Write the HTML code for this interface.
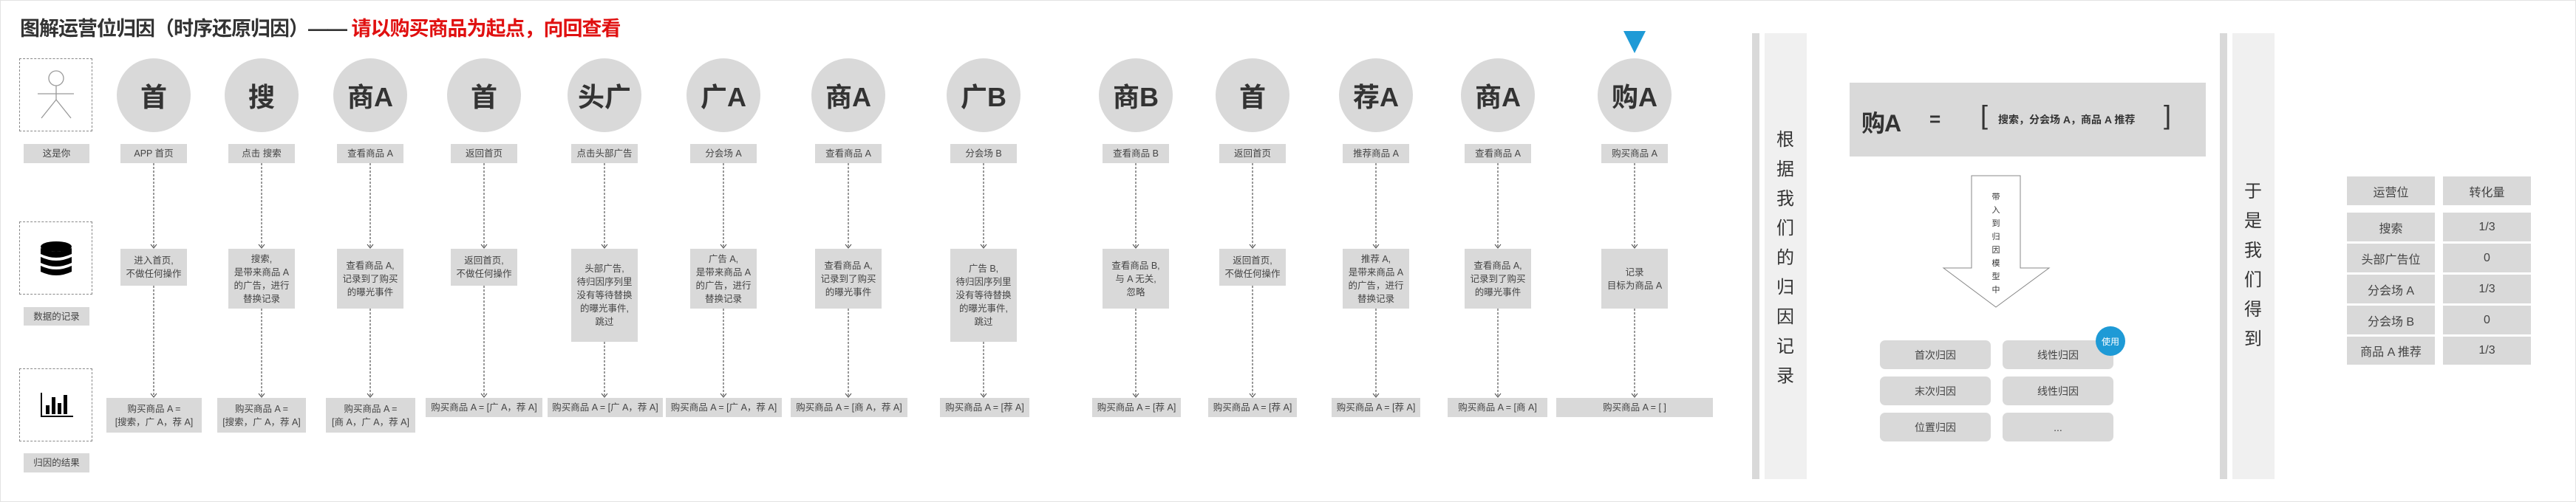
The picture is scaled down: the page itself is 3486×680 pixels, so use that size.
<!DOCTYPE html>
<html><head><meta charset="utf-8">
<style>
*{margin:0;padding:0;box-sizing:border-box}
body{width:3486px;height:680px;background:#fff;position:relative;overflow:hidden;font-family:"Liberation Sans","Noto Sans CJK SC",sans-serif;color:#333}
.a{position:absolute}
.g{position:absolute;background:#d9d9d9;display:flex;align-items:center;justify-content:center;text-align:center;font-size:12.5px;line-height:18px;color:#444;white-space:nowrap}
.c{position:absolute;width:100px;height:100px;border-radius:50%;background:#d9d9d9;top:79px;display:flex;align-items:center;justify-content:center;font-size:36px;font-weight:bold;color:#333}
.lb{top:195px;height:26px;width:90px}
.d{position:absolute;left:26px;width:99px;height:99px;border:1px dashed #888}
.btn{position:absolute;width:150px;height:39px;background:#d9d9d9;border-radius:7px;display:flex;align-items:center;justify-content:center;font-size:14px;color:#444}
.t{position:absolute;height:39px;background:#d9d9d9;display:flex;align-items:center;justify-content:center;font-size:16px;color:#444;width:119px}
</style></head><body>
<div class="a" style="left:0;top:0;width:3486px;height:680px;border:1px solid #e2e2e2"></div>
<div class="a" style="left:27px;top:17px;font-size:27px;font-weight:bold;white-space:nowrap;color:#333;letter-spacing:-1px">图解运营位归因（时序还原归因）—— <span style="color:#e01010">请以购买商品为起点，向回查看</span></div>

<div class="d" style="top:79px"></div>
<div class="d" style="top:300px"></div>
<div class="d" style="top:499px"></div>
<div class="g" style="left:32px;top:195px;width:89px;height:26px">这是你</div>
<div class="g" style="left:32px;top:416px;width:89px;height:25px">数据的记录</div>
<div class="g" style="left:32px;top:614px;width:89px;height:26px">归因的结果</div>

<svg class="a" style="left:0;top:0" width="3486" height="680">
<g stroke="#999" stroke-width="1.3" fill="none">
<circle cx="76" cy="106" r="10"/>
<line x1="76" y1="116" x2="76" y2="135"/>
<line x1="51" y1="127" x2="100" y2="127"/>
<line x1="76" y1="135" x2="56" y2="160"/>
<line x1="76" y1="135" x2="96" y2="160"/>
</g>
<g fill="#000">
<ellipse cx="76" cy="334" rx="21" ry="7"/>
<path d="M55 336 q21 10 42 0 v8 q-21 10 -42 0z"/>
<path d="M55 348 q21 10 42 0 v8 q-21 10 -42 0z"/>
<path d="M55 360 q21 10 42 0 v8 q-21 10 -42 0z"/>
<rect x="55" y="532" width="2" height="33"/>
<rect x="55" y="563" width="44" height="2"/>
<rect x="62" y="549" width="5" height="12"/>
<rect x="70" y="538" width="5" height="23"/>
<rect x="78" y="546" width="5" height="15"/>
<rect x="86" y="535" width="5" height="26"/>
</g>
<g stroke="#333" stroke-width="1" stroke-dasharray="3,2" fill="none">
<line x1="208" y1="221" x2="208" y2="335"/><line x1="208" y1="387" x2="208" y2="537"/>
<line x1="354" y1="221" x2="354" y2="335"/><line x1="354" y1="418" x2="354" y2="537"/>
<line x1="501" y1="221" x2="501" y2="335"/><line x1="501" y1="418" x2="501" y2="537"/>
<line x1="655" y1="221" x2="655" y2="335"/><line x1="655" y1="387" x2="655" y2="537"/>
<line x1="818" y1="221" x2="818" y2="335"/><line x1="818" y1="463" x2="818" y2="537"/>
<line x1="979" y1="221" x2="979" y2="335"/><line x1="979" y1="418" x2="979" y2="537"/>
<line x1="1148" y1="221" x2="1148" y2="335"/><line x1="1148" y1="418" x2="1148" y2="537"/>
<line x1="1331" y1="221" x2="1331" y2="335"/><line x1="1331" y1="463" x2="1331" y2="537"/>
<line x1="1537" y1="221" x2="1537" y2="335"/><line x1="1537" y1="418" x2="1537" y2="537"/>
<line x1="1695" y1="221" x2="1695" y2="335"/><line x1="1695" y1="387" x2="1695" y2="537"/>
<line x1="1862" y1="221" x2="1862" y2="335"/><line x1="1862" y1="418" x2="1862" y2="537"/>
<line x1="2027" y1="221" x2="2027" y2="335"/><line x1="2027" y1="418" x2="2027" y2="537"/>
<line x1="2212" y1="221" x2="2212" y2="335"/><line x1="2212" y1="418" x2="2212" y2="537"/>
</g>
<g stroke="#333" stroke-width="1" fill="none">
<path d="M204 331 l4 5 l4 -5 M204 533 l4 5 l4 -5"/>
<path d="M350 331 l4 5 l4 -5 M350 533 l4 5 l4 -5"/>
<path d="M497 331 l4 5 l4 -5 M497 533 l4 5 l4 -5"/>
<path d="M651 331 l4 5 l4 -5 M651 533 l4 5 l4 -5"/>
<path d="M814 331 l4 5 l4 -5 M814 533 l4 5 l4 -5"/>
<path d="M975 331 l4 5 l4 -5 M975 533 l4 5 l4 -5"/>
<path d="M1144 331 l4 5 l4 -5 M1144 533 l4 5 l4 -5"/>
<path d="M1327 331 l4 5 l4 -5 M1327 533 l4 5 l4 -5"/>
<path d="M1533 331 l4 5 l4 -5 M1533 533 l4 5 l4 -5"/>
<path d="M1691 331 l4 5 l4 -5 M1691 533 l4 5 l4 -5"/>
<path d="M1858 331 l4 5 l4 -5 M1858 533 l4 5 l4 -5"/>
<path d="M2023 331 l4 5 l4 -5 M2023 533 l4 5 l4 -5"/>
<path d="M2208 331 l4 5 l4 -5 M2208 533 l4 5 l4 -5"/>
</g>
<polygon points="2197,42 2227,42 2212,72" fill="#1e9ad6"/>
<rect x="2371" y="45" width="10" height="604" fill="#d9d9d9"/>
<rect x="2388" y="45" width="57" height="604" fill="#f0f0f0"/>
<rect x="3004" y="45" width="10" height="604" fill="#d9d9d9"/>
<rect x="3021" y="45" width="57" height="604" fill="#f0f0f0"/>
<polygon points="2668,238 2734,238 2734,363 2773,363 2701,416 2630,363 2668,363" fill="#fff" stroke="#888" stroke-width="1"/>
</svg>

<div class="c" style="left:158px">首</div>
<div class="c" style="left:304px">搜</div>
<div class="c" style="left:451px">商A</div>
<div class="c" style="left:605px">首</div>
<div class="c" style="left:768px">头广</div>
<div class="c" style="left:929px">广A</div>
<div class="c" style="left:1098px">商A</div>
<div class="c" style="left:1281px">广B</div>
<div class="c" style="left:1487px">商B</div>
<div class="c" style="left:1645px">首</div>
<div class="c" style="left:1812px">荐A</div>
<div class="c" style="left:1977px">商A</div>
<div class="c" style="left:2162px">购A</div>

<div class="g lb" style="left:163px">APP 首页</div>
<div class="g lb" style="left:309px">点击 搜索</div>
<div class="g lb" style="left:456px">查看商品 A</div>
<div class="g lb" style="left:610px">返回首页</div>
<div class="g lb" style="left:773px">点击头部广告</div>
<div class="g lb" style="left:934px">分会场 A</div>
<div class="g lb" style="left:1103px">查看商品 A</div>
<div class="g lb" style="left:1286px">分会场 B</div>
<div class="g lb" style="left:1492px">查看商品 B</div>
<div class="g lb" style="left:1650px">返回首页</div>
<div class="g lb" style="left:1817px">推荐商品 A</div>
<div class="g lb" style="left:1982px">查看商品 A</div>
<div class="g lb" style="left:2167px">购买商品 A</div>

<div class="g" style="left:163px;top:337px;width:90px;height:50px">进入首页,<br>不做任何操作</div>
<div class="g" style="left:309px;top:337px;width:90px;height:81px">搜索,<br>是带来商品 A<br>的广告，进行<br>替换记录</div>
<div class="g" style="left:456px;top:337px;width:90px;height:81px">查看商品 A,<br>记录到了购买<br>的曝光事件</div>
<div class="g" style="left:610px;top:337px;width:90px;height:50px">返回首页,<br>不做任何操作</div>
<div class="g" style="left:773px;top:337px;width:90px;height:126px">头部广告,<br>待归因序列里<br>没有等待替换<br>的曝光事件,<br>跳过</div>
<div class="g" style="left:934px;top:337px;width:90px;height:81px">广告 A,<br>是带来商品 A<br>的广告，进行<br>替换记录</div>
<div class="g" style="left:1103px;top:337px;width:90px;height:81px">查看商品 A,<br>记录到了购买<br>的曝光事件</div>
<div class="g" style="left:1286px;top:337px;width:90px;height:126px">广告 B,<br>待归因序列里<br>没有等待替换<br>的曝光事件,<br>跳过</div>
<div class="g" style="left:1492px;top:337px;width:90px;height:81px">查看商品 B,<br>与 A 无关,<br>忽略</div>
<div class="g" style="left:1650px;top:337px;width:90px;height:50px">返回首页,<br>不做任何操作</div>
<div class="g" style="left:1817px;top:337px;width:90px;height:81px">推荐 A,<br>是带来商品 A<br>的广告，进行<br>替换记录</div>
<div class="g" style="left:1982px;top:337px;width:90px;height:81px">查看商品 A,<br>记录到了购买<br>的曝光事件</div>
<div class="g" style="left:2167px;top:337px;width:90px;height:81px">记录<br>目标为商品 A</div>

<div class="g" style="left:144px;top:539px;width:129px;height:47px">购买商品 A =<br>[搜索，广 A，荐 A]</div>
<div class="g" style="left:294px;top:539px;width:120px;height:47px">购买商品 A =<br>[搜索，广 A，荐 A]</div>
<div class="g" style="left:441px;top:539px;width:121px;height:47px">购买商品 A =<br>[商 A，广 A，荐 A]</div>
<div class="g" style="left:576px;top:539px;width:158px;height:26px">购买商品 A = [广 A，荐 A]</div>
<div class="g" style="left:741px;top:539px;width:156px;height:26px">购买商品 A = [广 A，荐 A]</div>
<div class="g" style="left:901px;top:539px;width:157px;height:26px">购买商品 A = [广 A，荐 A]</div>
<div class="g" style="left:1070px;top:539px;width:158px;height:26px">购买商品 A = [商 A，荐 A]</div>
<div class="g" style="left:1272px;top:539px;width:121px;height:26px">购买商品 A = [荐 A]</div>
<div class="g" style="left:1478px;top:539px;width:120px;height:26px">购买商品 A = [荐 A]</div>
<div class="g" style="left:1635px;top:539px;width:120px;height:26px">购买商品 A = [荐 A]</div>
<div class="g" style="left:1802px;top:539px;width:120px;height:26px">购买商品 A = [荐 A]</div>
<div class="g" style="left:1959px;top:539px;width:135px;height:26px">购买商品 A = [商 A]</div>
<div class="g" style="left:2106px;top:539px;width:212px;height:26px">购买商品 A = [ ]</div>

<div class="a" style="left:2404px;top:170px;width:24px;font-size:24px;line-height:40px;text-align:center;color:#333">根据我们的归因记录</div>
<div class="a" style="left:3037px;top:240px;width:24px;font-size:24px;line-height:40px;text-align:center;color:#333">于是我们得到</div>

<div class="a" style="left:2503px;top:112px;width:482px;height:100px;background:#d9d9d9"></div>
<div class="a" style="left:2519px;top:142px;font-size:32px;font-weight:bold;color:#333;letter-spacing:-1px">购A</div>
<div class="a" style="left:2611px;top:146px;font-size:26px;font-weight:bold;color:#333">=</div>
<div class="a" style="left:2680px;top:136px;font-size:36px;color:#333;line-height:40px">[</div>
<div class="a" style="left:2704px;top:152px;font-size:14px;font-weight:bold;color:#333;white-space:nowrap">搜索，分会场 A，商品 A 推荐</div>
<div class="a" style="left:2928px;top:136px;font-size:36px;color:#333;line-height:40px">]</div>
<div class="a" style="left:2694px;top:258px;width:14px;font-size:11px;line-height:18px;text-align:center;color:#333">带入到归因模型中</div>

<div class="btn" style="left:2544px;top:461px">首次归因</div>
<div class="btn" style="left:2710px;top:461px">线性归因</div>
<div class="btn" style="left:2544px;top:510px">末次归因</div>
<div class="btn" style="left:2710px;top:510px">线性归因</div>
<div class="btn" style="left:2544px;top:559px">位置归因</div>
<div class="btn" style="left:2710px;top:559px">...</div>
<div class="a" style="left:2836px;top:442px;width:40px;height:40px;border-radius:50%;background:#1e9ad6;color:#fff;font-size:12px;display:flex;align-items:center;justify-content:center">使用</div>

<div class="t" style="left:3176px;top:239px">运营位</div><div class="t" style="left:3306px;top:239px">转化量</div>
<div class="t" style="left:3176px;top:288px">搜索</div><div class="t" style="left:3306px;top:288px">1/3</div>
<div class="t" style="left:3176px;top:330px">头部广告位</div><div class="t" style="left:3306px;top:330px">0</div>
<div class="t" style="left:3176px;top:372px">分会场 A</div><div class="t" style="left:3306px;top:372px">1/3</div>
<div class="t" style="left:3176px;top:414px">分会场 B</div><div class="t" style="left:3306px;top:414px">0</div>
<div class="t" style="left:3176px;top:456px;height:38px">商品 A 推荐</div><div class="t" style="left:3306px;top:456px;height:38px">1/3</div>
</body></html>
